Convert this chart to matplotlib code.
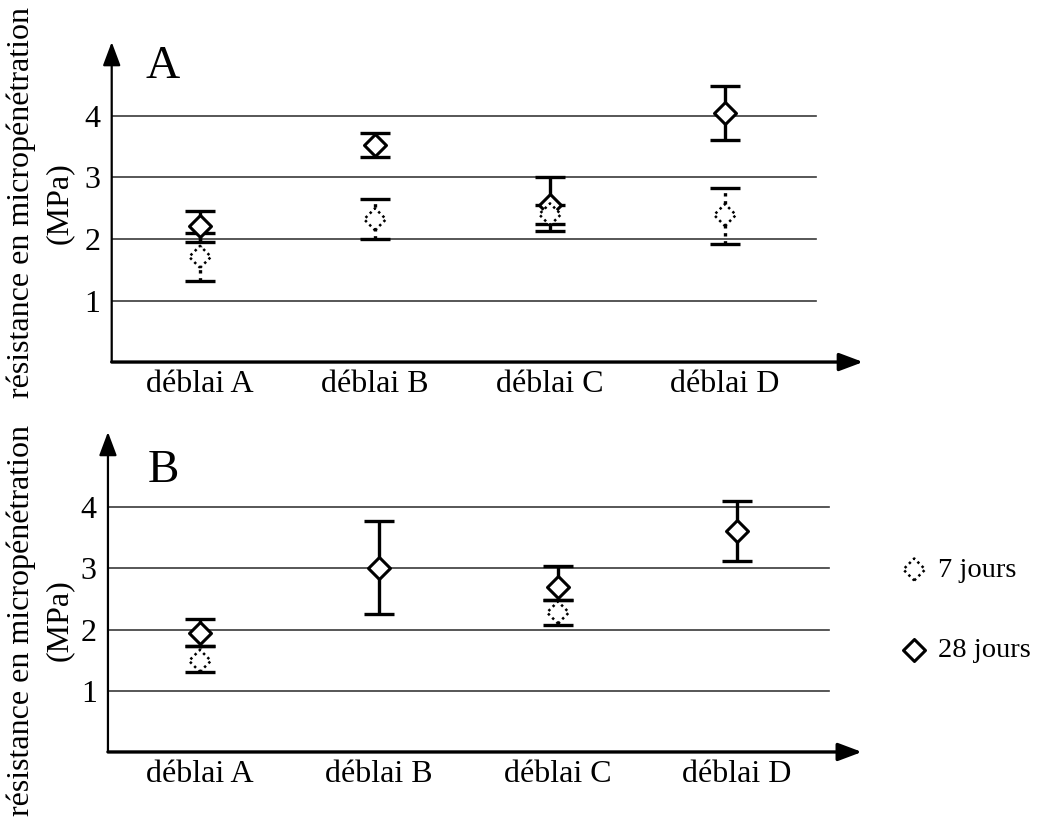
import numpy as np
import matplotlib
matplotlib.use("Agg")
import matplotlib.pyplot as plt

# ===== DATA (MPa) =====
categories = ["déblai A", "déblai B", "déblai C", "déblai D"]
yticks = [1, 2, 3, 4]

# panel A
a_7j = [1.71, 2.32, 2.40, 2.39]
a_7j_lo = [1.31, 2.00, 2.25, 1.92]
a_7j_hi = [2.10, 2.65, 2.55, 2.83]
a_28j = [2.21, 3.53, 2.55, 4.05]
a_28j_lo = [1.95, 3.33, 2.13, 3.61]
a_28j_hi = [2.46, 3.72, 3.01, 4.48]

# panel B (no 7-day value for déblai B and D)
b_7j = [1.49, np.nan, 2.28, np.nan]
b_7j_lo = [1.30, np.nan, 2.07, np.nan]
b_7j_hi = [1.74, np.nan, 2.49, np.nan]
b_28j = [1.95, 3.01, 2.70, 3.61]
b_28j_lo = [1.74, 2.25, 2.49, 3.12]
b_28j_hi = [2.17, 3.78, 3.04, 4.10]
# ==========================================

plt.rcParams["font.family"] = ["Liberation Serif", "DejaVu Serif"]
FS = 23
YLABEL = "résistance en micropénétration\n(MPa)"
DOT = (0, (1, 1.4))


def draw_panel(ax, tag, v7, lo7, hi7, v28, lo28, hi28, xlim, ylim, grid_end, tag_pos):
    x = np.arange(len(categories))
    v7, lo7, hi7 = map(np.asarray, (v7, lo7, hi7))
    v28, lo28, hi28 = map(np.asarray, (v28, lo28, hi28))

    ax.set_xlim(*xlim)
    ax.set_ylim(*ylim)
    for s in ax.spines.values():
        s.set_visible(False)

    for y in yticks:
        ax.axhline(y, xmin=0, xmax=grid_end, color="#3a3a3a", lw=1.2, zorder=1)

    # 7 jours: dotted error bars
    eb = ax.errorbar(x, v7, yerr=[v7 - lo7, hi7 - v7], fmt="none", ecolor="k",
                     elinewidth=2.4, capsize=11, capthick=2.4, zorder=2)
    eb[2][0].set_linestyle(DOT)
    # 28 jours: solid error bars
    ax.errorbar(x, v28, yerr=[v28 - lo28, hi28 - v28], fmt="none", ecolor="k",
                elinewidth=2.4, capsize=11, capthick=2.4, zorder=3)

    h28 = ax.scatter(x, v28, marker="D", s=125, facecolors="white", edgecolors="k",
                     linewidths=2.2, zorder=4, label="28 jours")
    h7 = ax.scatter(x, v7, marker="D", s=125, facecolors="white", edgecolors="k",
                    linewidths=1.8, linestyles=DOT, zorder=5, label="7 jours")

    # axes drawn as arrows
    arrow = dict(arrowstyle="-|>,head_length=0.8,head_width=0.3", color="k",
                 mutation_scale=18, shrinkA=0, shrinkB=0)
    ax.annotate("", xy=(0, 1), xytext=(0, 0), xycoords="axes fraction",
                arrowprops=dict(arrow, lw=1.6), annotation_clip=False)
    ax.annotate("", xy=(1, 0), xytext=(0, 0), xycoords="axes fraction",
                arrowprops=dict(arrow, lw=2.4), annotation_clip=False)

    ax.set_yticks(yticks)
    ax.set_yticklabels([str(t) for t in yticks], fontsize=FS)
    ax.set_xticks(x)
    ax.set_xticklabels(categories, fontsize=FS)
    ax.tick_params(axis="y", length=0, pad=8)
    ax.tick_params(axis="x", length=0, pad=6)

    ax.text(tag_pos[0], tag_pos[1], tag, transform=ax.transAxes, fontsize=34,
            va="baseline", ha="left")
    return h7, h28


fig = plt.figure(figsize=(10.44, 8.23), dpi=100)
axA = fig.add_axes([0.1070, 0.5601, 0.7197, 0.3888])
axB = fig.add_axes([0.1034, 0.0863, 0.7222, 0.3888])

draw_panel(axA, "A", a_7j, a_7j_lo, a_7j_hi, a_28j, a_28j_lo, a_28j_hi,
           (-0.505, 3.789), (0, 5.20), 0.937, (0.045, 0.8875))
h7, h28 = draw_panel(axB, "B", b_7j, b_7j_lo, b_7j_hi, b_28j, b_28j_lo, b_28j_hi,
                     (-0.514, 3.698), (0, 5.23), 0.956, (0.053, 0.844))

for yc in (1 - 203 / 823, 1 - 620 / 823):
    fig.text(40 / 1044, yc, YLABEL, rotation=90, ha="center", va="center",
             multialignment="center", fontsize=23, linespacing=1.38)

fig.legend([h7, h28], ["7 jours", "28 jours"], loc="center left",
           bbox_to_anchor=(900 / 1044, 1 - 610 / 823), frameon=False,
           fontsize=20.5, handlelength=1.0, handletextpad=0.33, labelspacing=1.9,
           borderpad=0, borderaxespad=0, scatterpoints=1)

fig.savefig("out.png", dpi=100)
